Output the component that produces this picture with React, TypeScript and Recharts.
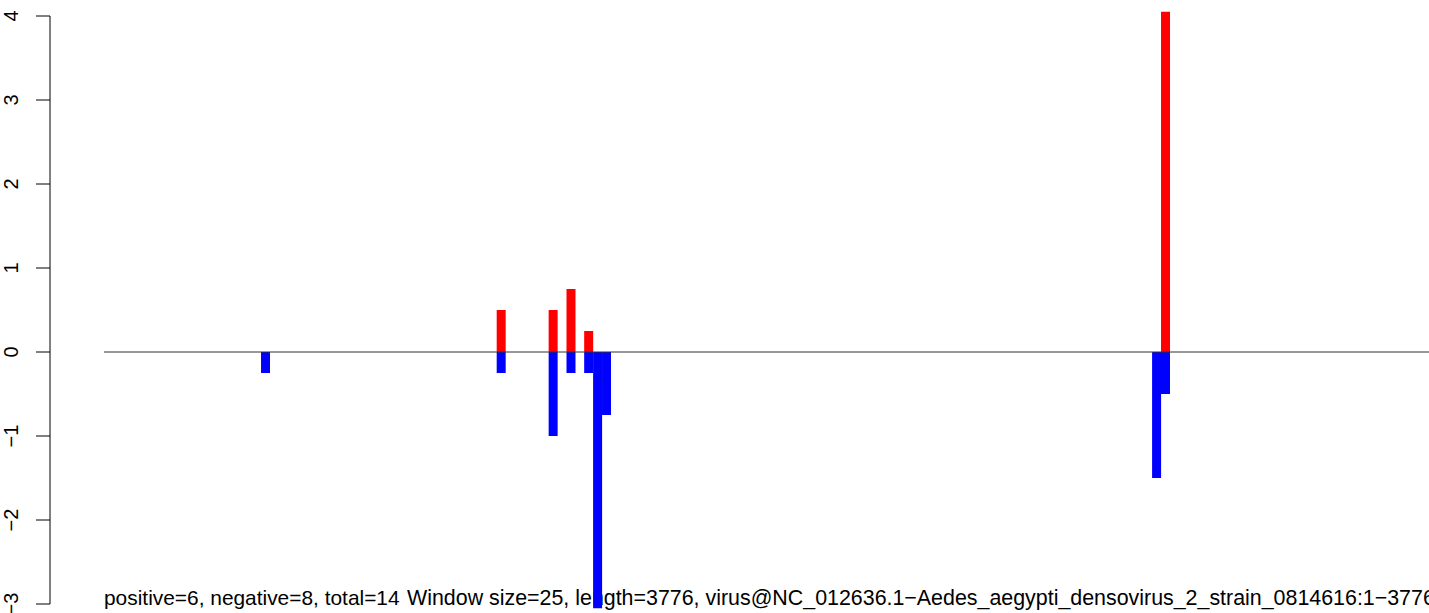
import { Bar, ComposedChart, ReferenceLine, XAxis, YAxis } from "recharts";

// window centres along the genome
const positions = [452.5, 1112.5, 1258, 1308, 1357.5, 1382.5, 1407.5, 2948, 2973];
const plusValues = [0, 0.5, 0.5, 0.75, 0.25, 0, 0, 0, 4.05];
const minusValues = [-0.25, -0.25, -1, -0.25, -0.25, -3.05, -0.75, -1.5, -0.5];
const yTicks = [-3, -2, -1, 0, 1, 2, 3, 4];
const seqLength = 3776;
const xDomain = [-151, 3711];
const summaryText = "positive=6, negative=8, total=14";
const windowText =
  "Window size=25, length=3776, virus@NC_012636.1\u2212Aedes_aegypti_densovirus_2_strain_0814616:1\u22123776";

const data = positions.map((pos, i) => ({ pos, plus: plusValues[i], minus: minusValues[i] }));

const FONT = "'Liberation Sans', Arial, Helvetica, sans-serif";

function RotatedTick({ x, y, payload }: any) {
  const v = payload.value as number;
  const label = v < 0 ? `\u2212${Math.abs(v)}` : String(v);
  return (
    <text
      x={x}
      y={y}
      transform={`rotate(-90 ${x} ${y})`}
      textAnchor="middle"
      fontSize={20}
      fontFamily={FONT}
      fill="#000"
    >
      {label}
    </text>
  );
}

export default function App() {
  return (
    <div style={{ width: 1429, height: 613, background: "#fff", overflow: "hidden" }}>
      <style>{"body{margin:0}"}</style>
      <ComposedChart
        width={1429}
        height={613}
        data={data}
        stackOffset="sign"
        barCategoryGap={0}
        barGap={0}
        margin={{ top: 7.6, right: 0, bottom: 0.6, left: 0 }}
      >
        <XAxis dataKey="pos" type="number" domain={xDomain} allowDataOverflow hide />
        <YAxis
          type="number"
          domain={[-3.1, 4.1]}
          ticks={yTicks}
          allowDataOverflow
          width={50}
          axisLine={false}
          tickSize={14}
          tickMargin={18}
          tickLine={{ stroke: "#000" }}
          tick={<RotatedTick />}
        />
        <text x={104} y={605} fontSize={20.9} fontFamily={FONT} fill="#000">
          {summaryText}
        </text>
        <text x={407} y={605} fontSize={21.4} fontFamily={FONT} fill="#000">
          {windowText}
        </text>
        <ReferenceLine
          segment={[{ x: xDomain[0], y: -3 }, { x: xDomain[0], y: 4 }]}
          stroke="#000"
          ifOverflow="visible"
        />
        <ReferenceLine
          segment={[{ x: 0, y: 0 }, { x: seqLength, y: 0 }]}
          stroke="#333"
          ifOverflow="visible"
        />
        <Bar dataKey="plus" stackId="s" fill="#ff0000" isAnimationActive={false} />
        <Bar dataKey="minus" stackId="s" fill="#0000ff" isAnimationActive={false} />
      </ComposedChart>
    </div>
  );
}
